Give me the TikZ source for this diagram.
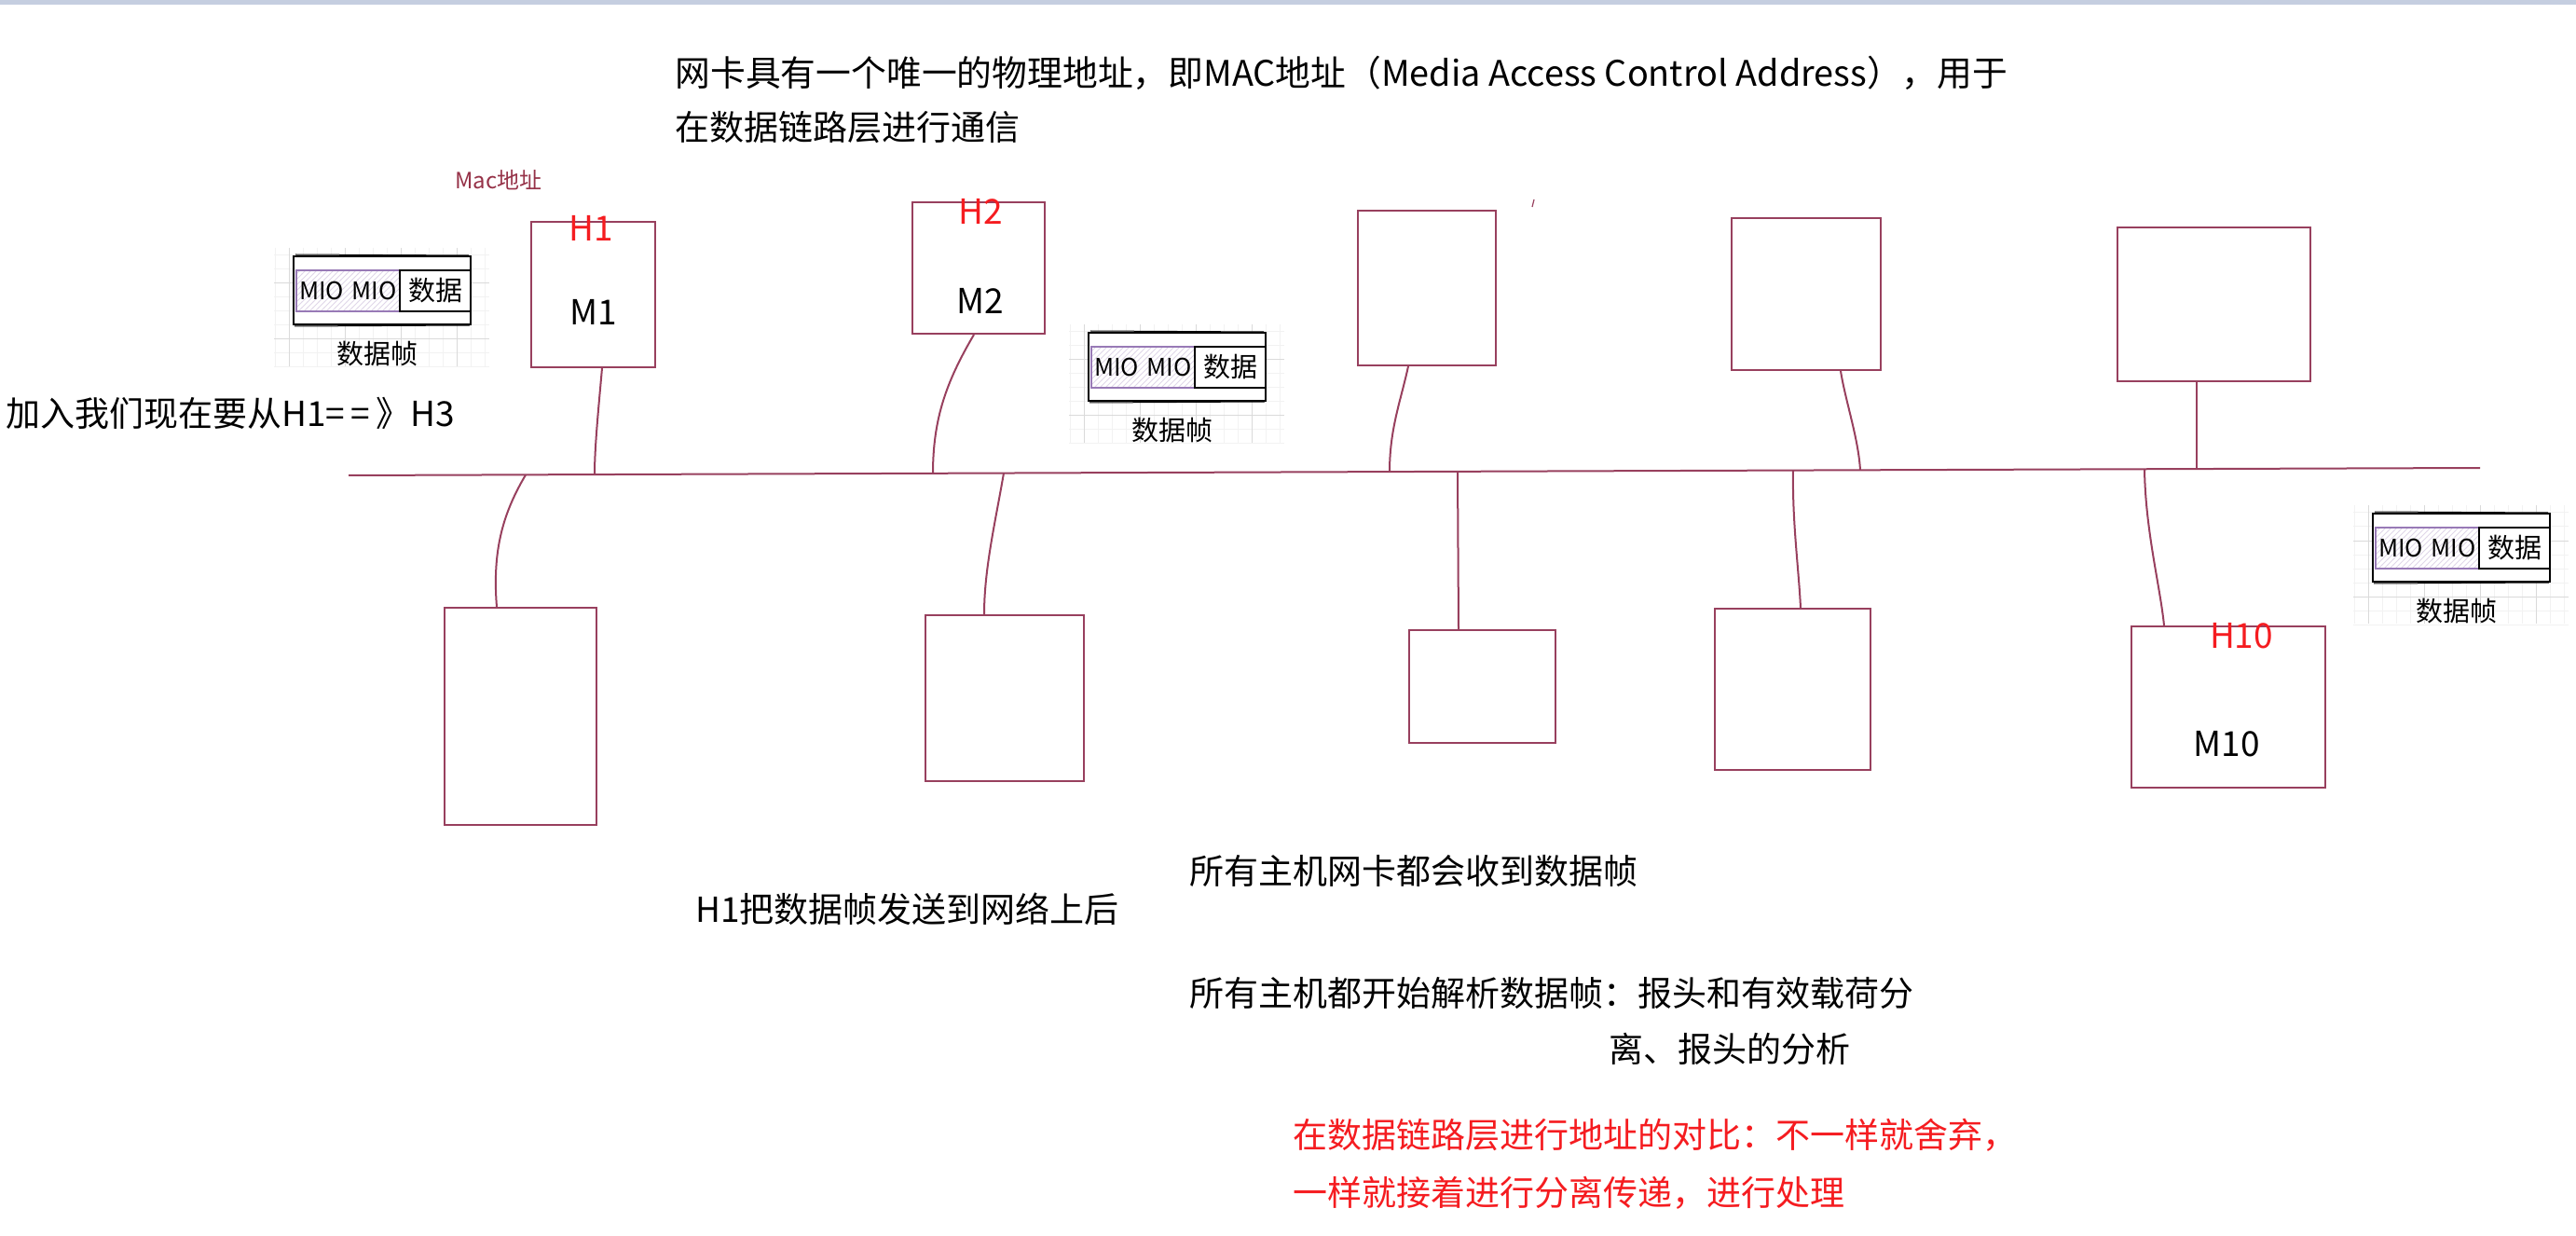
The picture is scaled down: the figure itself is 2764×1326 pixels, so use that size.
\documentclass[tikz,border=0pt]{standalone}
\usepackage{fontspec}
\setmainfont{Noto Sans CJK SC}
\usetikzlibrary{patterns,calc}

\definecolor{hostline}{RGB}{152,64,94}
\definecolor{topbar}{RGB}{197,206,224}
\definecolor{macred}{RGB}{150,50,72}
\definecolor{hred}{RGB}{245,28,32}
\definecolor{framepurple}{RGB}{152,122,182}
\definecolor{gridminor}{RGB}{242,242,242}
\definecolor{gridmajor}{RGB}{218,218,218}

\begin{document}
\begin{tikzpicture}[x=0.5pt,y=-0.5pt,
    host/.style 2 args={draw=hostline, line width=1pt, inner sep=0,
      minimum width=#1*0.5pt, minimum height=#2*0.5pt},
    wire/.style={draw=hostline, line width=1pt},
    note/.style={anchor=west, inner sep=0, font=\fontsize{18.5}{22}\selectfont},
    hlabel/.style={inner sep=0, text=hred, font=\fontsize{18.5}{22}\selectfont},
    mlabel/.style={inner sep=0, font=\fontsize{18.5}{22}\selectfont}]
  \useasboundingbox (0,0) rectangle (2764,1326);
  \fill[white] (0,0) rectangle (2764,1326);
  \fill[topbar] (0,0) rectangle (2764,5);

  \node[note, font=\fontsize{18.9}{22}\selectfont] (intro1) at (724,78) {网卡具有一个唯一的物理地址，即MAC地址（Media Access Control Address），用于};
  \node[note] (intro2) at (724,137) {在数据链路层进行通信};
  \node[text=macred, inner sep=0, font=\fontsize{12}{14}\selectfont] (mac) at (535,193) {Mac地址};
  \node[note] (task) at (6,443) {加入我们现在要从H1=\,=\,》H3};

  % hosts above the bus
  \node[host={133}{156}] (h1) at (636.5,316) {};
  \node[host={142}{141}] (h2) at (1050,287.5) {};
  \node[host={148}{166}] (ht3) at (1531,309) {};
  \node[host={160}{163}] (ht4) at (1938,315.5) {};
  \node[host={207}{165}] (ht5) at (2375.5,326.5) {};
  % hosts below the bus
  \node[host={163}{233}] (hb1) at (558.5,768.5) {};
  \node[host={170}{178}] (hb2) at (1078,749) {};
  \node[host={157}{121}] (hb3) at (1590.5,736.5) {};
  \node[host={167}{173}] (hb4) at (1923.5,739.5) {};
  \node[host={208}{173}] (h10) at (2391,758.5) {};

  \node[hlabel] (lh1) at (634,245) {H1};
  \node[mlabel] (lm1) at (637,335) {M1};
  \node[hlabel] (lh2) at (1052,227) {H2};
  \node[mlabel] (lm2) at (1052,323) {M2};
  \node[hlabel] (lh10) at (2405,682) {H10};
  \node[mlabel] (lm10) at (2389,798) {M10};

  % bus
  \coordinate (busL) at (374,510);
  \coordinate (busR) at (2661,502);
  \draw[wire] (busL) -- (busR);
  \coordinate (p1) at (638,509);
  \coordinate (p2) at (1001,508);
  \coordinate (p3) at (1491,506);
  \coordinate (p4) at (1996,504.5);
  \coordinate (p5) at (2357,503);
  \coordinate (q1) at (564,509.5);
  \coordinate (q2) at (1077,507.5);
  \coordinate (q3) at (1564,506);
  \coordinate (q4) at (1924,504.5);
  \coordinate (q5) at (2301,503.5);

  \draw[wire] ($(h1.south)+(9.5,0)$) .. controls (642,440) and (638,480) .. (p1);
  \draw[wire] ($(h2.south)+(-5,0)$) .. controls (1015,410) and (1001,450) .. (p2);
  \draw[wire] ($(ht3.south)+(-20,0)$) .. controls (1503,430) and (1491,460) .. (p3);
  \draw[wire] ($(ht4.south)+(37,0)$) .. controls (1980,430) and (1994,470) .. (p4);
  \draw[wire] ($(ht5.south)+(-18.5,0)$) -- (p5);
  \draw[wire] (q1) .. controls (540,550) and (528,590) .. ($(hb1.north)+(-25.5,0)$);
  \draw[wire] (q2) .. controls (1068,560) and (1056,610) .. ($(hb2.north)+(-22,0)$);
  \draw[wire] (q3) -- ($(hb3.north)+(-25.5,0)$);
  \draw[wire] (q4) .. controls (1923,560) and (1930,610) .. ($(hb4.north)+(8.5,0)$);
  \draw[wire] (q5) .. controls (2302,570) and (2318,630) .. ($(h10.north)+(-69,0)$);
  \draw[hostline, line width=0.6pt] (1644,222) -- (1646,214);

  % data frames
  \foreach \fx/\fy/\nm in {315/275/fa, 1168/357/fb, 2546/551/fc}{
    \begin{scope}[shift={(\fx,\fy)}]
      \foreach \gx in {-20,-5,...,205} \draw[gridminor, line width=0.5pt] (\gx,-9) -- (\gx,118);
      \foreach \gy in {-1,14,...,119} \draw[gridminor, line width=0.5pt] (-21,\gy) -- (210,\gy);
      \foreach \gx in {-5,55,...,175} \draw[gridmajor, line width=0.5pt] (\gx,-9) -- (\gx,118);
      \foreach \gy in {29,89} \draw[gridmajor, line width=0.5pt] (-21,\gy) -- (210,\gy);
      \node[draw, fill=white, line width=1.2pt, inner sep=0, minimum width=95pt, minimum height=36.5pt] (\nm) at (95,36.5) {};
      \draw[line width=0.5pt] (2,-2) -- (188,-1) (1,75) -- (189,74);
      \node[draw=framepurple, line width=1pt, inner sep=0, minimum width=55.5pt, minimum height=22pt,
        pattern=north east lines, pattern color=framepurple!30] (\nm-mac) at (58.5,37) {};
      \node[inner sep=0, font=\fontsize{13}{14}\selectfont] (\nm-txt) at (\nm-mac) {MIO\,\,MIO};
      \node[draw, line width=1pt, inner sep=0, minimum width=38pt, minimum height=22pt] (\nm-data) at (152,37) {};
      \node[inner sep=0, font=\fontsize{14.5}{16}\selectfont] (\nm-dtxt) at (\nm-data) {数据};
      \node[inner sep=0, font=\fontsize{14.5}{16}\selectfont] (\nm-lbl) at (90,105) {数据帧};
    \end{scope}
  }

  \node[note] (sent) at (746,975) {H1把数据帧发送到网络上后};
  \node[note] (recv) at (1276,934) {所有主机网卡都会收到数据帧};
  \node[note] (parse1) at (1276,1065) {所有主机都开始解析数据帧：报头和有效载荷分};
  \node[note] (parse2) at (1726,1125) {离、报头的分析};
  \node[note, text=hred] (cmp1) at (1387,1218) {在数据链路层进行地址的对比：不一样就舍弃，};
  \node[note, text=hred] (cmp2) at (1387,1280) {一样就接着进行分离传递，进行处理};
\end{tikzpicture}
\end{document}
